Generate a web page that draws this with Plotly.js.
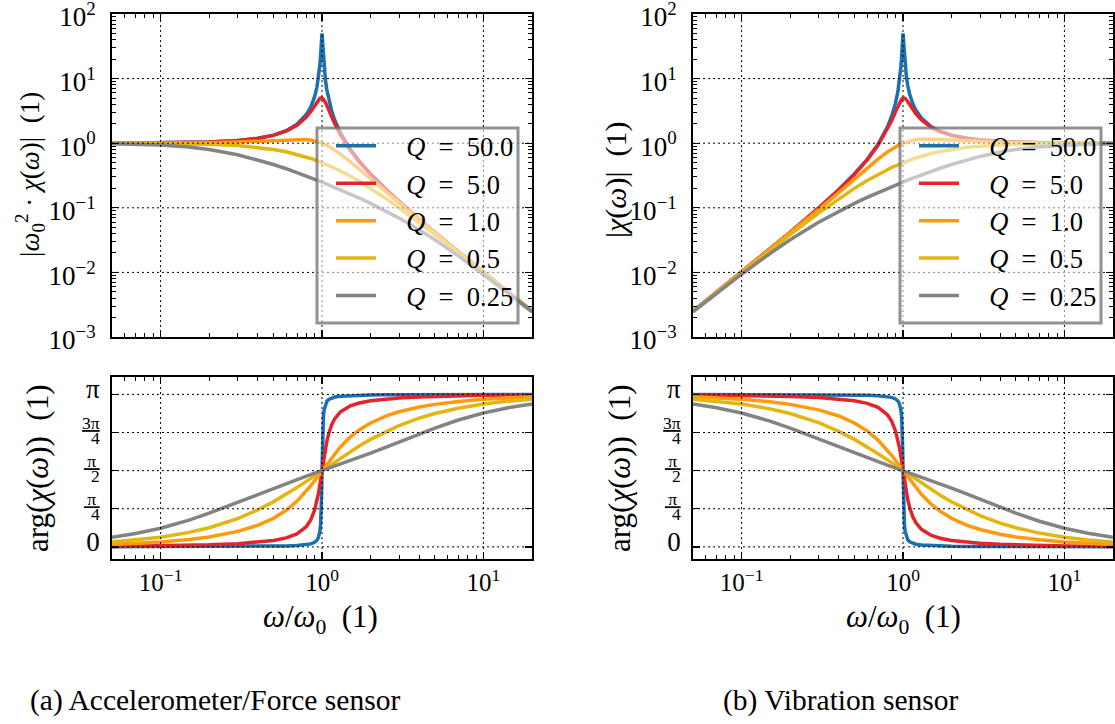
<!DOCTYPE html>
<html>
<head>
<meta charset="utf-8">
<script src="https://cdn.plot.ly/plotly-3.0.1.min.js"></script>
<style>html,body{margin:0;padding:0;background:#fff;}#chart{width:1115px;height:724px;}</style>
</head>
<body>
<div id="chart"></div>
<script>
// ---- data ----
const omegaRatio = [0.05,0.07,0.1,0.15,0.2, 0.3,0.4,0.5,0.6,0.7, 0.8,0.85,0.9,0.93,0.95, 0.97,0.98,0.99,0.995,1.0,
  1.005,1.01,1.02,1.03,1.05, 1.07,1.1,1.15,1.2,1.3, 1.5,1.7,2,2.5,3, 4,5,7,10,14, 20];

const seriesLabels = ['Q = 50.0','Q = 5.0','Q = 1.0','Q = 0.5','Q = 0.25'];

// (a) accelerometer / force sensor: |w0^2 chi(w)|
const accMagQ50 = [1.0025,1.0049,1.0101,1.023,1.0417, 1.0989,1.1905,1.3333,1.5622,1.96, 2.775,3.597,5.24,7.333,10.067, 16.077,22.63,35.62,44.92,50,
  44.52,35.09,22.10,15.55,9.558, 6.827,4.736,3.093,2.2694,1.4482, 0.7998,0.529,0.3333,0.1905,0.125, 0.06667,0.04167,0.020833,0.010101,0.005128, 0.0025063];
const accMagQ5 = [1.0025,1.0048,1.0099,1.0225,1.0408, 1.0965,1.1851,1.3216,1.5357,1.8908, 2.5384,3.0728,3.8208,4.35,4.6826, 4.9309,5.001,5.0252,5.0188,5,
  4.969,4.9262,4.8086,4.6552,4.2794, 3.8694,3.288,2.5245,1.9952,1.3562, 0.7779,0.5207,0.3304,0.18962,0.12465, 0.066572,0.041631,0.020825,0.010099,0.0051277, 0.0025061];
const accMagQ1 = [1.0013,1.0025,1.005,1.0112,1.0198, 1.0436,1.0748,1.1094,1.1399,1.1546, 1.1399,1.1184,1.0871,1.0641,1.0471, 1.029,1.0196,1.0099,1.005,1,
  0.995,0.9899,0.9796,0.9692,0.9479, 0.9261,0.893,0.8373,0.7824,0.6795, 0.5122,0.3934,0.2774,0.172,0.11704, 0.064416,0.040791,0.020615,0.01005,0.005115, 0.0025031];
const accMagQ05 = [0.9975,0.9951,0.9901,0.978,0.9615, 0.9174,0.8621,0.8,0.7353,0.6711, 0.6098,0.5806,0.5525,0.5362,0.5256, 0.5152,0.5101,0.505,0.5025,0.5,
  0.4975,0.495,0.4901,0.4852,0.4756, 0.4662,0.4525,0.4306,0.4098,0.3717, 0.3077,0.2571,0.2,0.13793,0.1, 0.058824,0.038462,0.02,0.009901,0.0050761, 0.0024938];
const accMagQ025 = [0.983,0.9674,0.9366,0.8719,0.8002, 0.664,0.5534,0.4682,0.4026,0.3514, 0.3105,0.2931,0.2774,0.2686,0.2631, 0.2577,0.2551,0.2525,0.2513,0.25,
  0.2488,0.2475,0.2451,0.2427,0.238, 0.2335,0.227,0.2169,0.2075,0.1906, 0.1632,0.1417,0.117,0.08854,0.069338, 0.045596,0.032009,0.017995,0.0093654,0.004929, 0.0024574];

const accPhaseQ50 = [0.0010,0.0014,0.0020,0.0031,0.0042, 0.0066,0.0095,0.0133,0.0188,0.0275, 0.0444,0.0612,0.0945,0.1368,0.1925, 0.3172,0.4597,0.7829,1.1063,1.5708,
  2.0337,2.3537,2.6742,2.8154,2.9395, 2.9950,3.0372,3.0704,3.0871,3.1039, 3.1176,3.1236,3.1283,3.1321,3.1341, 3.1363,3.1374,3.1387,3.1396,3.1402, 3.1406];
const accPhaseQ5 = [0.0100,0.0141,0.0202,0.0307,0.0416, 0.0658,0.0950,0.1326,0.1853,0.2679, 0.4182,0.5496,0.7584,0.9428,1.0966, 1.2755,1.3715,1.4706,1.5207,1.5708,
  1.6207,1.6700,1.7663,1.8586,2.0245, 2.1659,2.3329,2.5219,2.6420,2.7811, 2.9061,2.9636,3.0090,3.0467,3.0667, 3.0883,3.1000,3.1124,3.1214,3.1272, 3.1316];
const accPhaseQ1 = [0.0501,0.0703,0.1007,0.1523,0.2054, 0.3183,0.4444,0.5880,0.7532,0.9414, 1.1479,1.2546,1.3628,1.4265,1.4685, 1.5100,1.5304,1.5507,1.5608,1.5708,
  1.5808,1.5907,1.6104,1.6299,1.6681, 1.7054,1.7594,1.8442,1.9228,2.0587, 2.2655,2.4090,2.5536,2.6972,2.7828, 2.8810,2.9362,2.9968,3.0409,3.0699, 3.0915];
const accPhaseQ05 = [0.0999,0.1398,0.1993,0.2980,0.3948, 0.5828,0.7610,0.9273,1.0808,1.2216, 1.3495,1.4089,1.4656,1.4983,1.5195, 1.5403,1.5506,1.5608,1.5658,1.5708,
  1.5758,1.5808,1.5906,1.6004,1.6196, 1.6384,1.6660,1.7101,1.7521,1.8307, 1.9656,2.0780,2.2143,2.3806,2.4981, 2.6516,2.7468,2.8578,2.9423,2.9990, 3.0417];
const accPhaseQ025 = [0.1979,0.2743,0.3839,0.5507,0.6947, 0.9219,1.0874,1.2120,1.3102,1.3906, 1.4588,1.4894,1.5181,1.5345,1.5452, 1.5556,1.5607,1.5658,1.5683,1.5708,
  1.5733,1.5758,1.5807,1.5856,1.5952, 1.6046,1.6185,1.6408,1.6622,1.7027, 1.7762,1.8418,1.9296,2.0542,2.1588, 2.3246,2.4469,2.6135,2.7577,2.8620, 2.9437];

// (b) vibration sensor: |chi(w)|
const vibMagQ50 = [0.0025063,0.004924,0.010101,0.023018,0.041667, 0.098901,0.19048,0.33333,0.56239,0.9604, 1.776,2.5988,4.2442,6.342,9.085, 15.127,21.73,34.91,44.47,50,
  44.97,35.80,22.99,16.50,10.538, 7.816,5.731,4.09,3.268,2.4475, 1.7996,1.5288,1.3333,1.1906,1.125, 1.0667,1.0417,1.0208,1.0101,1.0051, 1.0025];
const vibMagQ5 = [0.0025062,0.0049236,0.010099,0.023006,0.041632, 0.098685,0.18962,0.3304,0.55285,0.92649, 1.6246,2.2201,3.0948,3.7623,4.226, 4.6395,4.803,4.9252,4.9687,5,
  5.0188,5.0252,5.0029,4.9387,4.718, 4.4301,3.9785,3.3387,2.8731,2.292, 1.7503,1.5048,1.3216,1.1851,1.1219, 1.0652,1.0408,1.0204,1.0099,1.005, 1.0024];
const vibMagQ1 = [0.0025031,0.004912,0.01005,0.022752,0.040792, 0.093924,0.17197,0.27735,0.41036,0.56575, 0.72954,0.80804,0.88055,0.92034,0.94501, 0.96819,0.97922,0.9898,0.99498,1,
  1.005,1.0098,1.0192,1.0282,1.045, 1.0603,1.0805,1.1073,1.1267,1.1483, 1.1523,1.1369,1.1094,1.0748,1.0534, 1.0307,1.0198,1.0101,1.005,1.0025, 1.0012];
const vibMagQ05 = [0.0024938,0.0048761,0.009901,0.022005,0.038462, 0.082569,0.13793,0.2,0.26471,0.32886, 0.39024,0.41945,0.44751,0.46378,0.47438, 0.48477,0.4899,0.49497,0.49749,0.5,
  0.50249,0.50498,0.5099,0.51478,0.52438, 0.53378,0.54751,0.56943,0.59016,0.62825, 0.69231,0.74293,0.8,0.86207,0.9, 0.94118,0.96154,0.98,0.9901,0.99492, 0.99751];
const vibMagQ025 = [0.0024574,0.0047401,0.0093655,0.019617,0.032009, 0.05976,0.088539,0.11704,0.14494,0.17217, 0.19875,0.21179,0.22469,0.23235,0.23742, 0.24247,0.24499,0.24749,0.24875,0.25,
  0.25125,0.2525,0.25499,0.25747,0.26242, 0.26735,0.27468,0.2868,0.29874,0.32218, 0.36711,0.40948,0.46816,0.55338,0.62404, 0.72954,0.80023,0.88176,0.93654,0.96608, 0.98296];

const vibPhaseQ50 = [3.1406,3.1402,3.1396,3.1385,3.1374, 3.1350,3.1321,3.1283,3.1228,3.1141, 3.0972,3.0804,3.0471,3.0048,2.9491, 2.8244,2.6819,2.3587,2.0353,1.5708,
  1.1079,0.7879,0.4674,0.3262,0.2021, 0.1466,0.1044,0.0712,0.0545,0.0377, 0.0240,0.0180,0.0133,0.0095,0.0075, 0.0053,0.0042,0.0029,0.0020,0.0014, 0.0010];
const vibPhaseQ5 = [3.1316,3.1275,3.1214,3.1109,3.1000, 3.0758,3.0466,3.0090,2.9563,2.8737, 2.7234,2.5920,2.3832,2.1988,2.0450, 1.8661,1.7701,1.6710,1.6209,1.5708,
  1.5209,1.4716,1.3753,1.2830,1.1171, 0.9757,0.8087,0.6197,0.4996,0.3605, 0.2355,0.1780,0.1326,0.0949,0.0749, 0.0533,0.0416,0.0292,0.0202,0.0144, 0.0100];
const vibPhaseQ1 = [3.0915,3.0713,3.0409,2.9893,2.9362, 2.8233,2.6972,2.5536,2.3884,2.2002, 1.9937,1.8870,1.7788,1.7151,1.6731, 1.6316,1.6112,1.5909,1.5808,1.5708,
  1.5608,1.5509,1.5312,1.5117,1.4735, 1.4362,1.3822,1.2974,1.2188,1.0829, 0.8761,0.7326,0.5880,0.4444,0.3588, 0.2606,0.2054,0.1448,0.1007,0.0717, 0.0501];
const vibPhaseQ05 = [3.0417,3.0018,2.9423,2.8436,2.7468, 2.5588,2.3806,2.2143,2.0608,1.9200, 1.7921,1.7327,1.6760,1.6433,1.6221, 1.6013,1.5910,1.5808,1.5758,1.5708,
  1.5658,1.5608,1.5510,1.5412,1.5220, 1.5032,1.4756,1.4315,1.3895,1.3109, 1.1760,1.0636,0.9273,0.7610,0.6435, 0.4900,0.3948,0.2838,0.1993,0.1426, 0.0999];
const vibPhaseQ025 = [2.9437,2.8673,2.7577,2.5909,2.4469, 2.2197,2.0542,1.9296,1.8314,1.7510, 1.6828,1.6522,1.6235,1.6071,1.5964, 1.5860,1.5809,1.5758,1.5733,1.5708,
  1.5683,1.5658,1.5609,1.5560,1.5464, 1.5370,1.5231,1.5008,1.4794,1.4389, 1.3654,1.2998,1.2120,1.0874,0.9828, 0.8170,0.6947,0.5281,0.3839,0.2796, 0.1979];

// axis ranges and tick labels
const xRange = [0.05, 20];
const magRange = [1e-3, 1e2];
const phaseRange = [-0.25, 3.5];
const logTickVals = [1e-3,1e-2,1e-1,1,10,100];
const logTickText = ['10<sup>−3</sup>','10<sup>−2</sup>','10<sup>−1</sup>','10<sup>0</sup>','10<sup>1</sup>','10<sup>2</sup>'];
const xTickVals = [0.1,1,10];
const xTickText = ['10<sup>−1</sup>','10<sup>0</sup>','10<sup>1</sup>'];
const phaseTickVals = [0, Math.PI/4, Math.PI/2, 3*Math.PI/4, Math.PI];
const FR = 'font-size:17.5px';
const phaseTickText = ['<span style="font-size:27px">0</span>',
  '<span style="' + FR + '"><u>\u2009π\u2009</u></span><br><span style="' + FR + '">4</span>',
  '<span style="' + FR + '"><u>\u2009π\u2009</u></span><br><span style="' + FR + '">2</span>',
  '<span style="' + FR + '"><u>3π</u></span><br><span style="' + FR + '">4</span>',
  '<span style="font-size:27px">π</span>'];
const xMinorVals = [0.06,0.07,0.08,0.09,0.2,0.3,0.4,0.5,0.6,0.7,0.8,0.9,2,3,4,5,6,7,8,9,20];
const yMinorVals = [];
[1e-3,1e-2,1e-1,1,10].forEach(d => { for (let k = 2; k <= 9; k++) yMinorVals.push(+(d*k).toPrecision(3)); });

// ---- styling ----
const colors = ['#1a70b0','#e3242b','#ff9a0d','#e3b50f','#838383'];
const FONT = '"Liberation Serif", "DejaVu Serif", serif';
const W = 1115, H = 724;
const px = v => v / W, py = v => 1 - v / H;

const accMag = [accMagQ50, accMagQ5, accMagQ1, accMagQ05, accMagQ025];
const accPh = [accPhaseQ50, accPhaseQ5, accPhaseQ1, accPhaseQ05, accPhaseQ025];
const vibMag = [vibMagQ50, vibMagQ5, vibMagQ1, vibMagQ05, vibMagQ025];
const vibPh = [vibPhaseQ50, vibPhaseQ5, vibPhaseQ1, vibPhaseQ05, vibPhaseQ025];

function legendName(lbl) {
  const parts = lbl.split(' = ');
  return '\u00a0\u00a0\u00a0\u2009<i>' + parts[0] + '</i>\u00a0\u00a0=\u00a0\u00a0' + parts[1];
}

const magGridVals = logTickVals.slice(1, -1);
const traces = [];
const panels = [
  {data: accMag, xa: 'x', ya: 'y', legend: 'legend', show: true, yr: magRange, gy: magGridVals},
  {data: vibMag, xa: 'x2', ya: 'y2', legend: 'legend2', show: true, yr: magRange, gy: magGridVals},
  {data: accPh, xa: 'x3', ya: 'y3', legend: 'legend', show: false, yr: phaseRange, gy: phaseTickVals},
  {data: vibPh, xa: 'x4', ya: 'y4', legend: 'legend2', show: false, yr: phaseRange, gy: phaseTickVals}
];
panels.forEach(p => {
  p.data.forEach((ys, i) => {
    traces.push({
      x: omegaRatio, y: ys, xaxis: p.xa, yaxis: p.ya,
      type: 'scatter', mode: 'lines', name: legendName(seriesLabels[i]),
      line: {color: colors[i], width: 3.5},
      showlegend: p.show, legend: p.legend, hoverinfo: 'skip'
    });
  });
});
// dotted grid drawn over the curves (as in the reference), at the major ticks
panels.forEach(p => {
  const gx = [], gy = [];
  xTickVals.forEach(v => { gx.push(v, v, null); gy.push(p.yr[0], p.yr[1], null); });
  p.gy.forEach(v => { gx.push(xRange[0], xRange[1], null); gy.push(v, v, null); });
  traces.push({x: gx, y: gy, xaxis: p.xa, yaxis: p.ya, type: 'scatter', mode: 'lines',
    line: {color: 'black', width: 1, dash: '2px,3px'}, showlegend: false, hoverinfo: 'skip', connectgaps: false, cliponaxis: true});
});

const leftDom = [px(112), px(532)];
const rightDom = [px(693), px(1113)];
const magDom = [py(337), py(14)];
const phDom = [py(559), py(377)];

function baseAxis(extra) {
  return Object.assign({
    showline: true, mirror: 'allticks', linecolor: 'black', linewidth: 2,
    ticks: 'inside', ticklen: 7, tickwidth: 1.3, tickcolor: 'black',
    showgrid: false, zeroline: false, tickfont: {family: FONT, size: 27, color: 'black'},
    ticklabeloverflow: 'allow', fixedrange: true, layer: 'above traces'
  }, extra);
}
function logX(dom, anchor, labels) {
  return baseAxis({
    domain: dom, anchor: anchor, type: 'log', range: [Math.log10(xRange[0]), Math.log10(xRange[1])],
    tickmode: 'array', tickvals: xTickVals, ticktext: xTickText, showticklabels: labels,
    ticklabelstandoff: 0, tickfont: {family: FONT, size: 25, color: 'black'},
    minor: {tickmode: 'array', tickvals: xMinorVals, ticks: 'inside', ticklen: 4, tickcolor: 'black', tickwidth: 1, showgrid: false}
  });
}
function logY(dom, anchor) {
  return baseAxis({
    domain: dom, anchor: anchor, type: 'log', range: [Math.log10(magRange[0]), Math.log10(magRange[1])],
    tickmode: 'array', tickvals: logTickVals, ticktext: logTickText, ticklabelstandoff: 9, ticklabelshift: 3,
    minor: {tickmode: 'array', tickvals: yMinorVals, ticks: 'inside', ticklen: 4, tickcolor: 'black', tickwidth: 1, showgrid: false}
  });
}
function phY(dom, anchor) {
  return baseAxis({
    domain: dom, anchor: anchor, range: phaseRange,
    tickmode: 'array', tickvals: phaseTickVals, ticktext: phaseTickText, ticklabelstandoff: 8,
    tickfont: {family: FONT, size: 11.5, color: 'black'}
  });
}

function legendBox(x0, x1) {
  return {type: 'rect', xref: 'paper', yref: 'paper', x0: px(x0), x1: px(x1), y0: py(323), y1: py(128),
    fillcolor: 'rgba(255,255,255,0.55)', line: {color: 'rgba(110,110,110,0.75)', width: 3}, layer: 'above'};
}
function legendCfg(xLeft) {
  return {x: px(xLeft), y: py(122), xanchor: 'left', yanchor: 'top', bgcolor: 'rgba(0,0,0,0)', borderwidth: 0,
    font: {family: FONT, size: 26.5, color: 'black'}, itemwidth: 40, tracegroupgap: 0};
}

const titleFont = {family: FONT, size: 30, color: 'black'};
function ann(text, x, y, angle, size) {
  return {text: text, xref: 'paper', yref: 'paper', x: px(x), y: py(y), xanchor: 'center', yanchor: 'middle',
    showarrow: false, textangle: angle, font: Object.assign({}, titleFont, size ? {size: size} : {})};
}

const layout = {
  width: W, height: H, margin: {l: 0, r: 0, t: 0, b: 0},
  paper_bgcolor: 'white', plot_bgcolor: 'white', showlegend: true,
  xaxis: logX(leftDom, 'y', false),
  yaxis: logY(magDom, 'x'),
  xaxis2: logX(rightDom, 'y2', false),
  yaxis2: logY(magDom, 'x2'),
  xaxis3: logX(leftDom, 'y3', true),
  yaxis3: phY(phDom, 'x3'),
  xaxis4: logX(rightDom, 'y4', true),
  yaxis4: phY(phDom, 'x4'),
  legend: legendCfg(331),
  legend2: legendCfg(914),
  shapes: [legendBox(317, 518), legendBox(900, 1101)],
  annotations: [
    ann('|<i>ω</i><sub>0</sub><sup>2</sup> · <i>χ</i>(<i>ω</i>)|\u00a0\u00a0(1)', 30, 175, -90, 27),
    ann('|<i>χ</i>(<i>ω</i>)|\u00a0\u00a0(1)', 616, 180, -90),
    ann('arg(<i>χ</i>(<i>ω</i>))\u00a0\u00a0(1)', 37, 468, -90, 31),
    ann('arg(<i>χ</i>(<i>ω</i>))\u00a0\u00a0(1)', 619, 468, -90, 31),
    ann('<i>ω</i>/<i>ω</i><sub>0</sub>\u00a0\u00a0(1)', 320, 619, 0, 31),
    ann('<i>ω</i>/<i>ω</i><sub>0</sub>\u00a0\u00a0(1)', 903, 619, 0, 31),
    ann('(a) Accelerometer/Force sensor', 215, 700, 0, 29.5),
    ann('(b) Vibration sensor', 840, 700, 0, 29.5)
  ]
};

Plotly.newPlot('chart', traces, layout, {staticPlot: true, displayModeBar: false});
</script>
</body>
</html>
